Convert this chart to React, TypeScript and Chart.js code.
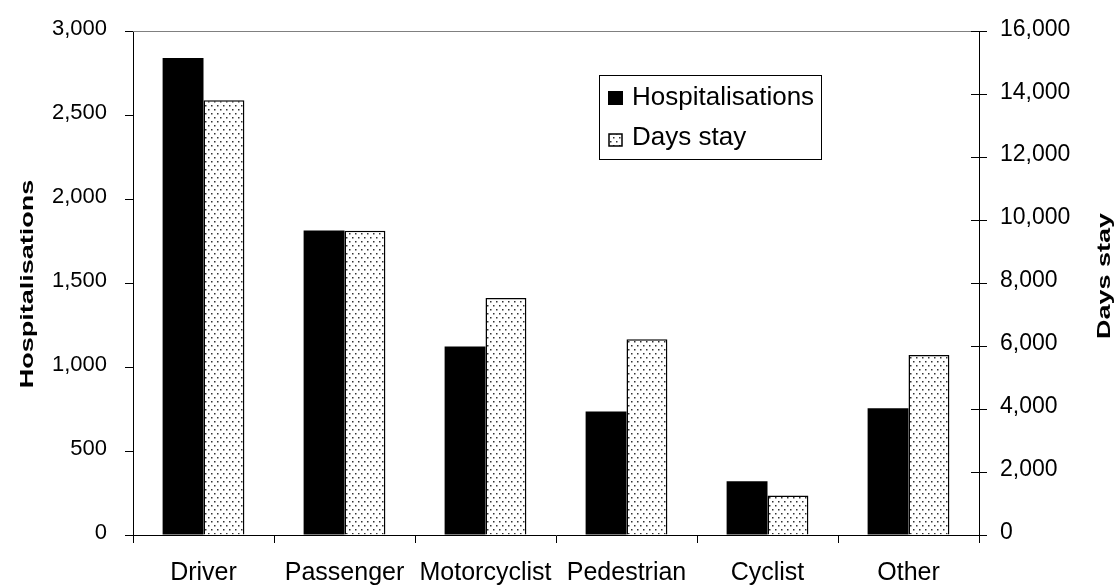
import React, { useEffect, useRef } from 'react';
import { Chart, registerables } from 'chart.js';

Chart.register(...registerables);

const categories = ['Driver', 'Passenger', 'Motorcyclist', 'Pedestrian', 'Cyclist', 'Other'];
const hospitalisations = [2840, 1813, 1122, 735, 320, 755];
const daysStay = [13810, 9660, 7530, 6220, 1255, 5720];
const seriesNames = ['Hospitalisations', 'Days stay'];
const leftAxis = { min: 0, max: 3000, step: 500, title: 'Hospitalisations' };
const rightAxis = { min: 0, max: 16000, step: 2000, title: 'Days stay' };

const FONT = "'Liberation Sans', Arial, sans-serif";

function makeDots(): CanvasPattern | string {
  const c = document.createElement('canvas');
  c.width = 6;
  c.height = 8;
  const g = c.getContext('2d');
  if (!g) return '#ddd';
  g.fillStyle = '#ffffff';
  g.fillRect(0, 0, 6, 8);
  g.fillStyle = '#333333';
  g.fillRect(1, 1, 1.5, 1.5);
  g.fillRect(4, 5, 1.5, 1.5);
  const p = g.createPattern(c, 'repeat');
  return p || '#ddd';
}

function drawTitle(ctx: CanvasRenderingContext2D, text: string, x: number, y: number) {
  ctx.save();
  ctx.translate(x, y);
  ctx.rotate(-Math.PI / 2);
  ctx.scale(1.42, 1);
  ctx.font = `bold 19px ${FONT}`;
  ctx.fillStyle = '#000';
  ctx.textAlign = 'center';
  ctx.textBaseline = 'alphabetic';
  ctx.fillText(text, 0, 0);
  ctx.restore();
}

const decor = {
  id: 'decor',
  afterDraw(chart: any) {
    const ctx: CanvasRenderingContext2D = chart.ctx;
    const { left, right, top } = chart.chartArea;
    ctx.save();
    // top frame line
    ctx.strokeStyle = '#808080';
    ctx.lineWidth = 1;
    ctx.beginPath();
    ctx.moveTo(left, Math.round(top) + 0.5);
    ctx.lineTo(right, Math.round(top) + 0.5);
    ctx.stroke();
    // inner half of the right-axis ticks (they cross the axis)
    const y1 = chart.scales.y1;
    ctx.strokeStyle = '#000';
    y1.ticks.forEach((t: any) => {
      const py = Math.round(y1.getPixelForValue(t.value) - 0.5) + 0.5;
      ctx.beginPath();
      ctx.moveTo(right - 8, py);
      ctx.lineTo(right, py);
      ctx.stroke();
    });
    ctx.restore();

    // axis titles
    drawTitle(ctx, leftAxis.title, 33, 284);
    drawTitle(ctx, rightAxis.title, 1110, 276);

    // legend box
    ctx.save();
    const bx = 599.5, by = 75.5, bw = 222, bh = 84;
    ctx.fillStyle = '#fff';
    ctx.fillRect(bx, by, bw, bh);
    ctx.strokeStyle = '#000';
    ctx.lineWidth = 1;
    ctx.strokeRect(bx, by, bw, bh);
    const ds = chart.data.datasets;
    ctx.font = `26px ${FONT}`;
    ctx.textAlign = 'left';
    ctx.textBaseline = 'alphabetic';
    // item 1
    ctx.fillStyle = ds[0].backgroundColor;
    ctx.fillRect(608, 91, 15, 14);
    ctx.fillStyle = '#000';
    ctx.fillText(ds[0].label, 632, 105);
    // item 2
    ctx.fillStyle = ds[1].backgroundColor;
    ctx.fillRect(609, 134, 13, 12);
    ctx.strokeStyle = '#000';
    ctx.lineWidth = 1.5;
    ctx.strokeRect(609, 134, 13, 12);
    ctx.fillStyle = '#000';
    ctx.fillText(ds[1].label, 632, 145);
    ctx.restore();
  },
};

export default function App() {
  const ref = useRef<HTMLCanvasElement | null>(null);

  useEffect(() => {
    if (!ref.current) return;
    const dots = makeDots();
    const chart = new Chart(ref.current, {
      type: 'bar',
      data: {
        labels: categories,
        datasets: [
          {
            label: seriesNames[0],
            data: hospitalisations,
            backgroundColor: '#000000',
            borderColor: '#000000',
            borderWidth: 0,
            yAxisID: 'y',
            categoryPercentage: 0.58,
            barPercentage: 1.0,
          },
          {
            label: seriesNames[1],
            data: daysStay,
            backgroundColor: dots as any,
            borderColor: '#000000',
            borderWidth: 1.5,
            yAxisID: 'y1',
            categoryPercentage: 0.58,
            barPercentage: 1.0,
          },
        ],
      },
      options: {
        responsive: false,
        animation: false,
        devicePixelRatio: 1,
        layout: { padding: { left: 0, right: 0, top: 25, bottom: 0 } },
        plugins: {
          legend: { display: false },
          tooltip: { enabled: false },
          title: { display: false },
        },
        scales: {
          x: {
            grid: {
              offset: true,
              drawOnChartArea: false,
              drawTicks: true,
              tickLength: 8,
              color: '#000',
            },
            border: { display: true, color: '#000', width: 1 },
            ticks: {
              color: '#000',
              font: { family: FONT, size: 25 },
              padding: 15,
              maxRotation: 0,
              minRotation: 0,
              autoSkip: false,
            },
            afterFit: (s: any) => {
              s.height = 51;
            },
          },
          y: {
            position: 'left',
            min: leftAxis.min,
            max: leftAxis.max,
            grid: {
              drawOnChartArea: false,
              drawTicks: true,
              tickLength: 8,
              color: '#000',
            },
            border: { display: true, color: '#000', width: 1 },
            ticks: {
              stepSize: leftAxis.step,
              color: '#000',
              font: { family: FONT, size: 22 },
              padding: 18,
              labelOffset: -2,
            },
            afterFit: (s: any) => {
              s.width = 133;
            },
          },
          y1: {
            position: 'right',
            min: rightAxis.min,
            max: rightAxis.max,
            grid: {
              drawOnChartArea: false,
              drawTicks: true,
              tickLength: 8,
              color: '#000',
            },
            border: { display: true, color: '#000', width: 1 },
            ticks: {
              stepSize: rightAxis.step,
              color: '#000',
              font: { family: FONT, size: 23 },
              padding: 13,
              labelOffset: -2,
            },
            afterFit: (s: any) => {
              s.width = 141;
            },
          },
        },
      },
      plugins: [decor],
    });
    return () => chart.destroy();
  }, []);

  return (
    <div style={{ position: 'absolute', left: 0, top: 0, width: 1120, height: 586, background: '#fff' }}>
      <canvas ref={ref} width={1120} height={586} style={{ display: 'block' }} />
    </div>
  );
}
